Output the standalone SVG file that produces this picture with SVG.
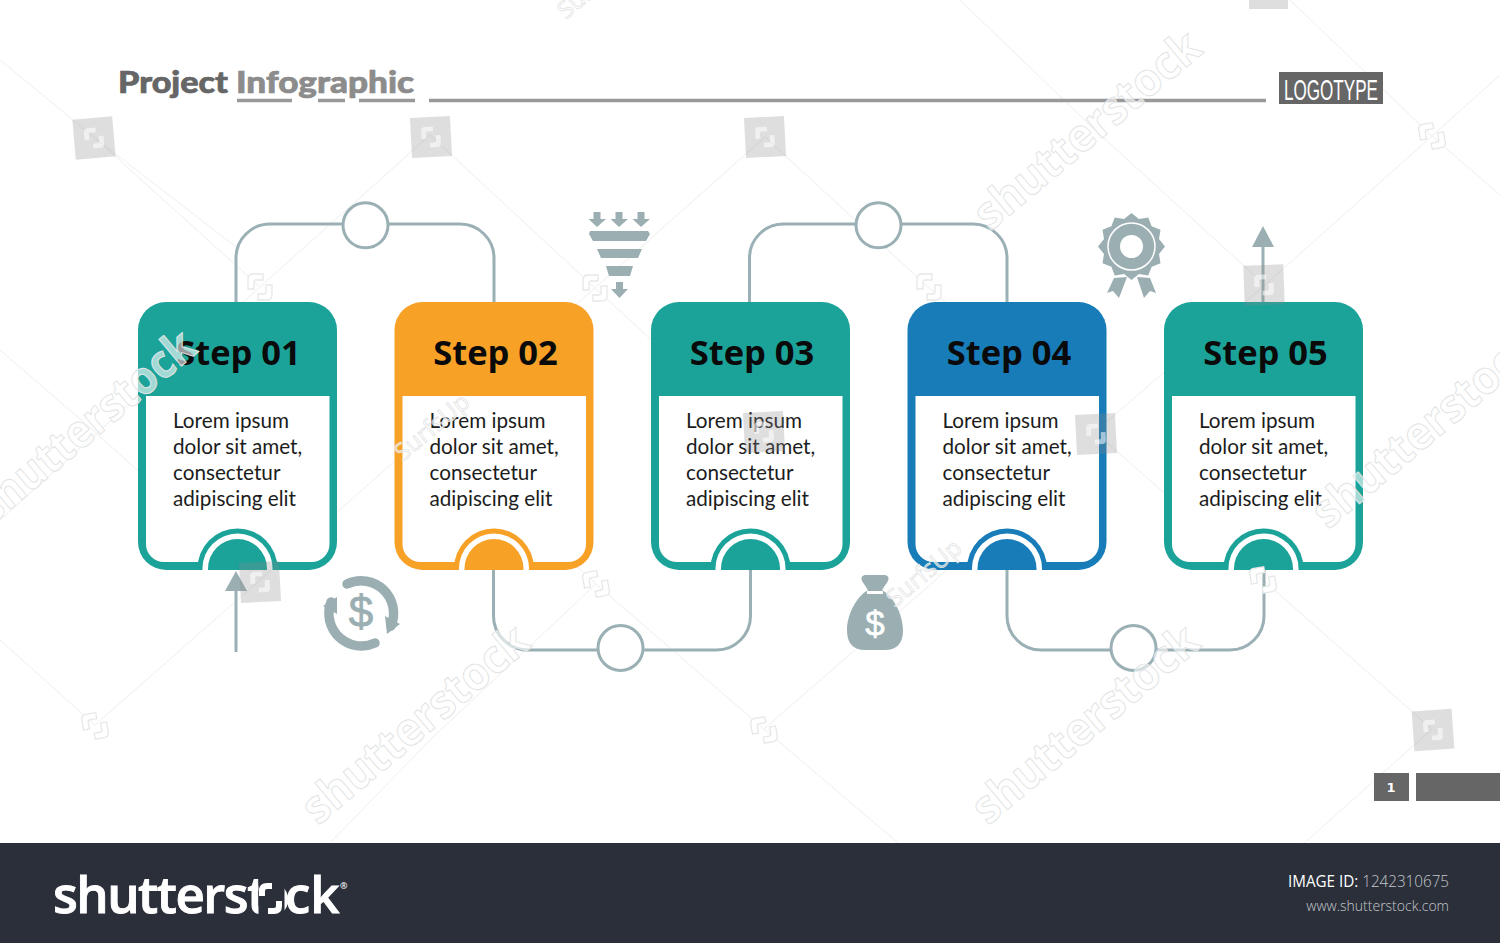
<svg xmlns="http://www.w3.org/2000/svg" width="1500" height="943" viewBox="0 0 1500 943">
<style>
.teal{fill:#1ba39a}.orange{fill:#f7a127}.blue{fill:#177cb8}
.head{font:700 34.500px "Open Sans","Liberation Sans",sans-serif;fill:#0a0a0a;text-anchor:middle}
.body{font:400 20.700px "Lato","Liberation Sans",sans-serif;fill:#1c1c1c}
.conn{fill:none;stroke:#9ab0b5;stroke-width:3}
.ring{fill:#fff;stroke:#9ab0b5;stroke-width:3}
.icon{fill:#9bafb3}
.wm{font:700 46px "Open Sans","Liberation Sans",sans-serif;fill:#fff;fill-opacity:.6;stroke:#e2e5e5;stroke-width:1}
.wm2{font:400 24px "Open Sans","Liberation Sans",sans-serif;fill:#fff;fill-opacity:.6;stroke:#dfe2e2;stroke-width:.7}
.faint{fill:none;stroke:#f4f4f4;stroke-width:1.2}
.sq{fill:#888;fill-opacity:.28}
.br{fill:#fff;fill-opacity:.55}
.br2{fill:#fff;stroke:#e6e8e8;stroke-width:1.3}
.ttl{font:900 30px "Lato","Liberation Sans",sans-serif;stroke-width:.7}
</style>
<defs>
<g id="card">
<rect x="0" y="302" width="199" height="268" rx="28"/>
<path d="M8 396H191.500V544A18 18 0 0 1 173.500 562H26A18 18 0 0 1 8 544Z" fill="#fff"/>
<path d="M59.500 570V568.500A40 40 0 0 1 139.500 568.500V570Z"/>
<path d="M64.500 570V568.500A35 35 0 0 1 134.500 568.500V570Z" fill="#fff"/>
<path d="M70 570V568.500A29.500 29.500 0 0 1 129 568.500V570Z"/>
</g>
<g id="lorem" class="body">
<text x="35" y="428">Lorem ipsum</text>
<text x="35" y="454">dolor sit amet,</text>
<text x="35" y="480">consectetur</text>
<text x="35" y="506">adipiscing elit</text>
</g>
<path id="mark" d="M-12 2V-8Q-12 -13 -7 -13H3V-7H-4Q-6 -7 -6 -5V2ZM12 -2V8Q12 13 7 13H-2V7H4Q6 7 6 5V-2Z"/>
<g id="sqm"><rect x="-20" y="-20" width="40" height="40" class="sq"/><use href="#mark" class="br" transform="scale(.8)"/></g>
</defs>
<rect width="1500" height="943" fill="#fff"/>

<g id="watermark-lines">
<path class="faint" d="M0 60L95 138L240 250M430 135L260 287L0 520M430 135L595 288L760 440M765 137L595 288L430 430M765 137L928 287L1095 432M1095 432L928 287M1095 432L1265 285L1432 136L1500 75M1265 285L1095 130L960 0M1432 136L1290 0M95 725L260 580L430 430L596 584L764 729L930 870M764 729L930 585L1095 432L1263 580L1432 729M95 725L0 640M764 729L596 584M1432 729L1263 880M1432 136L1500 195M260 580L95 432L0 350M260 287L95 138M596 584L430 740L330 843"/>
</g>

<g id="title">
<text class="ttl" x="118" y="93" fill="#666" stroke="#666" textLength="110" lengthAdjust="spacingAndGlyphs">Project</text>
<text class="ttl" x="236" y="93" fill="#8c8c8c" stroke="#8c8c8c" textLength="178" lengthAdjust="spacingAndGlyphs">Infographic</text>
<path d="M237 100.500H292M318 100.500H345M359 100.500H415M429 100.500H1266" fill="none" stroke="#999" stroke-width="3.500"/>
</g>
<g id="logotype">
<rect x="1279" y="72" width="104" height="32" fill="#666"/>
<text x="1284" y="99.500" style="font:400 30px 'Liberation Sans',sans-serif" fill="#fff" textLength="94" lengthAdjust="spacingAndGlyphs">LOGOTYPE</text>
</g>

<g id="connectors">
<path class="conn" d="M236 302V258A34 34 0 0 1 270 224H460A34 34 0 0 1 494 258V302"/>
<path class="conn" d="M749.500 302V258A34 34 0 0 1 783.500 224H973A34 34 0 0 1 1007 258V302"/>
<path class="conn" d="M493.500 570V616A34 34 0 0 0 527.500 650H716.500A34 34 0 0 0 750.500 616V570"/>
<path class="conn" d="M1007 570V616A34 34 0 0 0 1041 650H1230A34 34 0 0 0 1264 616V570"/>
<path class="conn" d="M236 652V590"/>
<path class="icon" d="M225 591L236 571L247 591Z"/>
<path class="conn" d="M1263 302V245"/>
<path class="icon" d="M1252 247L1263 226L1274 247Z"/>
</g>
<g id="ring-1"><circle class="ring" cx="365.500" cy="225.300" r="22.500"/></g>
<g id="ring-2"><circle class="ring" cx="878.500" cy="225.300" r="22.500"/></g>
<g id="ring-3"><circle class="ring" cx="620.500" cy="648" r="22.500"/></g>
<g id="ring-4"><circle class="ring" cx="1133.500" cy="648" r="22.500"/></g>

<g id="step-1" transform="translate(138 0)" class="teal"><use href="#card"/><text class="head" x="100.500" y="365">Step 01</text><use href="#lorem"/></g>
<g id="step-2" transform="translate(394.500 0)" class="orange"><use href="#card"/><text class="head" x="101" y="365">Step 02</text><use href="#lorem"/></g>
<g id="step-3" transform="translate(651 0)" class="teal"><use href="#card"/><text class="head" x="101" y="365">Step 03</text><use href="#lorem"/></g>
<g id="step-4" transform="translate(907.500 0)" class="blue"><use href="#card"/><text class="head" x="101.500" y="365">Step 04</text><use href="#lorem"/></g>
<g id="step-5" transform="translate(1164 0)" class="teal"><use href="#card"/><text class="head" x="101.500" y="365">Step 05</text><use href="#lorem"/></g>

<g id="icon-funnel" class="icon">
<path d="M593.500 212H600.500V219H606L597 227L588.500 219H593.500ZM615.500 212H622.500V219H628L619 227L610.500 219H615.500ZM637.500 212H644.500V219H650L641 227L632.500 219H637.500Z"/>
<path d="M590 231H648L650 234L646 241H593L589 234ZM597 249H642L638 258H601ZM606 266H633L630 276H609ZM616 282H623V289H628L619.500 298L611 289H616Z"/>
</g>
<g id="icon-cycle">
<path d="M347 584A32.500 32.500 0 0 1 391 626" fill="none" stroke="#9bafb3" stroke-width="9.500" stroke-linecap="round"/>
<path class="icon" d="M385 616L387 634L400 624Z"/>
<path d="M375 643A32.500 32.500 0 0 1 331 602" fill="none" stroke="#9bafb3" stroke-width="9.500" stroke-linecap="round"/>
<path class="icon" d="M323 606L337 597L337 614Z"/>
<text x="361" y="627" text-anchor="middle" style="font:400 44px 'Liberation Sans',sans-serif" class="icon" stroke="#9bafb3" stroke-width=".8">$</text>
</g>
<g id="icon-bag">
<path class="icon" d="M865 575H885Q890 576 888 581L882 590C894 597 903 615 903 630Q903 650 885 650H865Q847 650 847 630C847 615 856 597 868 590L862 581Q860 576 865 575Z"/>
<rect x="867" y="591" width="16" height="3" fill="#fff"/>
<text x="875" y="636" text-anchor="middle" style="font:400 35px 'Liberation Sans',sans-serif" fill="#fff" stroke="#fff" stroke-width=".6">$</text>
</g>
<g id="icon-badge">
<path class="icon" d="M1131.500 213L1138.900 219L1148.250 217.500L1151.650 226.350L1160.500 229.750L1159 239.100L1165 246.500L1159 253.900L1160.500 263.250L1151.650 266.650L1148.250 275.500L1138.900 274L1131.500 280L1124.100 274L1114.750 275.500L1111.350 266.650L1102.500 263.250L1104 253.900L1098 246.500L1104 239.100L1102.500 229.750L1111.350 226.350L1114.750 217.500L1124.100 219Z"/>
<circle cx="1131.500" cy="246.500" r="23.500" fill="none" stroke="#fff" stroke-width="1.500"/>
<circle cx="1131.500" cy="246.500" r="11.500" fill="#fff"/>
<path class="icon" d="M1114 278L1127 277L1119 298L1113 291L1107 293ZM1137 277L1150 278L1156 293L1150 291L1144 298Z"/>
</g>

<g id="page">
<rect x="1374" y="773" width="35" height="28" fill="#666"/>
<rect x="1416" y="773" width="84" height="28" fill="#666"/>
<text x="1391" y="792" text-anchor="middle" style="font:700 13px 'DejaVu Sans',sans-serif" fill="#fff">1</text>
</g>

<g id="watermarks">
<text class="wm" transform="translate(990 232) rotate(-40)" textLength="280" lengthAdjust="spacingAndGlyphs">shutterstock</text>
<text class="wm" transform="translate(-8 525) rotate(-40)" textLength="270" lengthAdjust="spacingAndGlyphs">shutterstock</text>
<text class="wm" transform="translate(318 826) rotate(-40)" textLength="280" lengthAdjust="spacingAndGlyphs">shutterstock</text>
<text class="wm" transform="translate(988 826) rotate(-40)" textLength="280" lengthAdjust="spacingAndGlyphs">shutterstock</text>
<text class="wm" transform="translate(1328 530) rotate(-40)" textLength="280" lengthAdjust="spacingAndGlyphs">shutterstock</text>
<text class="wm2" transform="translate(403 462) rotate(-40)">SurfsUp</text>
<text class="wm2" transform="translate(895 608) rotate(-40)">SurfsUp</text>
<text class="wm2" transform="translate(566 20) rotate(-40)">Sur</text>
<use href="#sqm" transform="translate(94 138) rotate(-5)"/>
<use href="#sqm" transform="translate(431 137) rotate(-3)"/>
<use href="#sqm" transform="translate(765 137) rotate(-3)"/>
<use href="#sqm" transform="translate(1264 285) rotate(-2)"/>
<use href="#sqm" transform="translate(260 582) rotate(-3)"/>
<use href="#sqm" transform="translate(764 432) rotate(-3)"/>
<use href="#sqm" transform="translate(1096 434) rotate(-3)"/>
<use href="#sqm" transform="translate(1433 730) rotate(-4)"/>
<rect x="1249" y="0" width="39" height="9" class="sq"/>
<use href="#mark" class="br2" transform="translate(260 287)"/>
<use href="#mark" class="br2" transform="translate(595 288)"/>
<use href="#mark" class="br2" transform="translate(929 287)"/>
<use href="#mark" class="br2" transform="translate(1432 136) rotate(-10)"/>
<use href="#mark" class="br2" transform="translate(95 726) rotate(-10)"/>
<use href="#mark" class="br2" transform="translate(764 730) rotate(-10)"/>
<use href="#mark" class="br2" transform="translate(596 584) rotate(-10)"/>
<use href="#mark" class="br2" transform="translate(1263 580) rotate(-10)"/>
</g>

<g id="footer">
<rect x="0" y="843" width="1500" height="100" fill="#2a2f3a"/>
<text x="53" y="913" style="font:600 51px 'Open Sans','Liberation Sans',sans-serif" fill="#fff" stroke="#fff" stroke-width=".9"><tspan letter-spacing="-1.500">shutterst</tspan><tspan x="259">o</tspan><tspan x="285">ck</tspan><tspan x="340" y="889" font-size="9" stroke-width="0">®</tspan></text>
<rect x="258.500" y="878" width="26" height="38" fill="#2a2f3a"/>
<path d="M262 896V891Q262 886 267 886H272M279 901V906Q279 911 274 911H268" fill="none" stroke="#fff" stroke-width="6"/>
<text x="1288" y="887" style="font:400 16px 'Open Sans','Liberation Sans',sans-serif" fill="#fff" textLength="161" lengthAdjust="spacingAndGlyphs">IMAGE ID: <tspan font-weight="300" fill="#c6c8cc">1242310675</tspan></text>
<text x="1449" y="911" text-anchor="end" style="font:300 14px 'Open Sans','Liberation Sans',sans-serif" fill="#c6c8cc">www.shutterstock.com</text>
</g>
</svg>
